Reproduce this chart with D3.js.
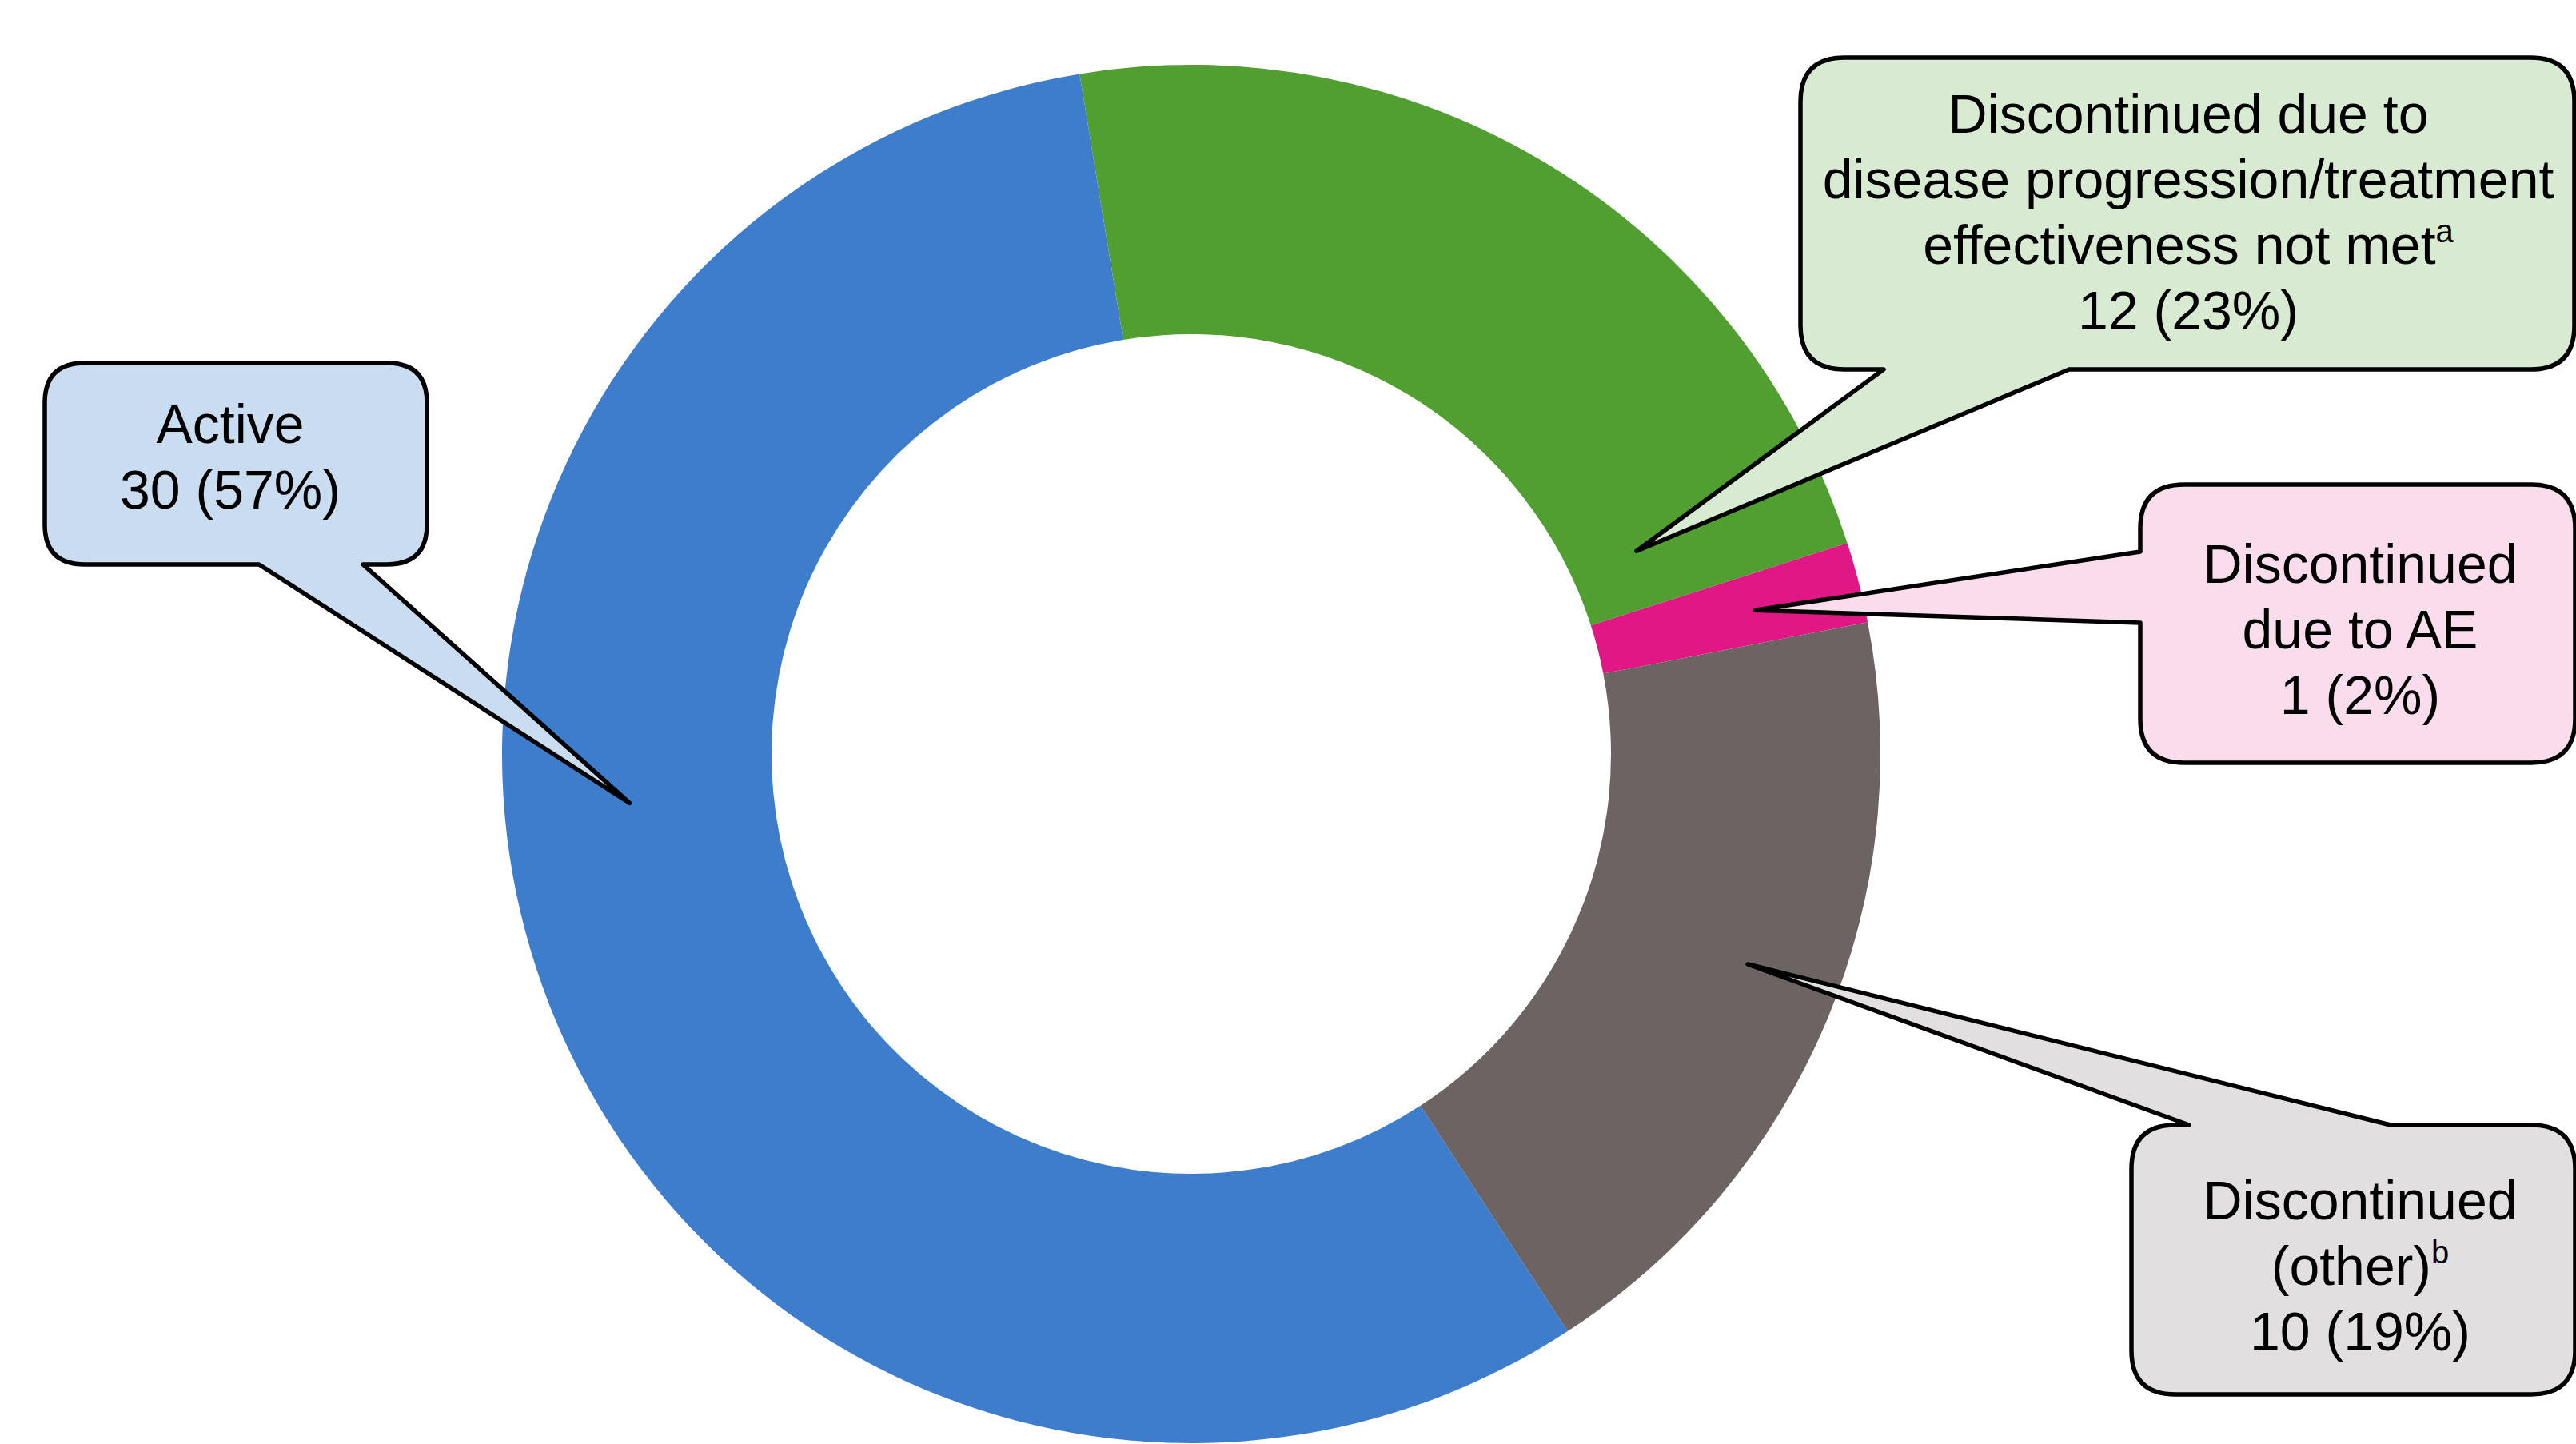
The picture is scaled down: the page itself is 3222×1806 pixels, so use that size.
<!DOCTYPE html>
<html><head><meta charset="utf-8">
<script src="https://cdn.jsdelivr.net/npm/d3@7"></script>
<style>html,body{margin:0;padding:0;background:#fff;overflow:hidden}</style>
</head><body><svg id="chart" width="3222" height="1806"></svg>
<script>
// ---- data ----
const categories = ["Active", "Discontinued due to disease progression/treatment effectiveness not met", "Discontinued due to AE", "Discontinued (other)"];
const counts = [30, 12, 1, 10];
const percentLabels = ["57%", "23%", "2%", "19%"];
const labelLines = [
  ["Active"],
  ["Discontinued due to", "disease progression/treatment", "effectiveness not met"],
  ["Discontinued", "due to AE"],
  ["Discontinued", "(other)"]
];
const footnoteMarks = ["", "a", "", "b"];

// ---- styles ----
const sliceColors = ["#3E7DCB", "#519E31", "#E01784", "#6B6462"];
const calloutFills = ["#CADCF0", "#D9EAD3", "#FADDEC", "#E1DFE0"];

// ---- layout ----
const W = 3222, H = 1806;
const cx = 1490, cy = 943, outerR = 862, innerR = 525;
const startDeg = 146.9;
const fontSize = 68, lineH = 82;

const calloutLayout = [
  {box: [56, 454, 534, 706], r: 50, side: "bottom", base: [324, 454], tip: {deg: 265, rad: 705}, textX: 288, baseline0: 554},
  {box: [2252, 72, 3220, 462], r: 55, side: "bottom", base: [2356, 2588], tip: {deg: 65.5, rad: 612}, textX: 2737, baseline0: 166},
  {box: [2677, 606, 3221, 954], r: 55, side: "left", base: [690, 779], tip: {deg: 75.7, rad: 728}, textX: 2952, baseline0: 729},
  {box: [2666, 1407, 3221, 1744], r: 55, side: "top", base: [2738, 2990], tip: {deg: 110.7, rad: 744}, textX: 2952, baseline0: 1525}
];

const data = categories.map((c, i) => ({category: c, count: counts[i], pct: percentLabels[i], lines: labelLines[i], mark: footnoteMarks[i]}));

const svg = d3.select("#chart");
svg.append("rect").attr("width", W).attr("height", H).attr("fill", "#fff");

const a0 = startDeg * Math.PI / 180;
const pie = d3.pie().sort(null).value(d => d.count).startAngle(a0).endAngle(a0 + 2 * Math.PI);
const arc = d3.arc().innerRadius(innerR).outerRadius(outerR);

const g = svg.append("g").attr("transform", `translate(${cx},${cy})`);
g.selectAll("path.slice").data(pie(data)).join("path")
  .attr("class", "slice")
  .attr("d", arc)
  .attr("fill", (d, i) => sliceColors[i]);

function polar(deg, rad) {
  const a = deg * Math.PI / 180;
  return [cx + rad * Math.sin(a), cy - rad * Math.cos(a)];
}

function calloutPath(L) {
  const [x0, y0, x1, y1] = L.box, r = L.r;
  const tip = polar(L.tip.deg, L.tip.rad);
  const p = d3.path();
  p.moveTo(x0 + r, y0);
  if (L.side === "top") {
    p.lineTo(L.base[0], y0); p.lineTo(tip[0], tip[1]); p.lineTo(L.base[1], y0);
  }
  p.lineTo(x1 - r, y0);
  p.quadraticCurveTo(x1, y0, x1, y0 + r);
  p.lineTo(x1, y1 - r);
  p.quadraticCurveTo(x1, y1, x1 - r, y1);
  if (L.side === "bottom") {
    p.lineTo(L.base[1], y1); p.lineTo(tip[0], tip[1]); p.lineTo(L.base[0], y1);
  }
  p.lineTo(x0 + r, y1);
  p.quadraticCurveTo(x0, y1, x0, y1 - r);
  if (L.side === "left") {
    p.lineTo(x0, L.base[1]); p.lineTo(tip[0], tip[1]); p.lineTo(x0, L.base[0]);
  }
  p.lineTo(x0, y0 + r);
  p.quadraticCurveTo(x0, y0, x0 + r, y0);
  p.closePath();
  return p.toString();
}

const callouts = svg.append("g").selectAll("g.callout").data(data).join("g").attr("class", "callout");
callouts.append("path")
  .attr("d", (d, i) => calloutPath(calloutLayout[i]))
  .attr("fill", (d, i) => calloutFills[i])
  .attr("stroke", "#000")
  .attr("stroke-width", 5.5)
  .attr("stroke-linejoin", "round");

callouts.each(function(d, i) {
  const L = calloutLayout[i];
  const t = d3.select(this).append("text")
    .attr("text-anchor", "middle")
    .attr("font-family", "'Liberation Sans', Arial, sans-serif")
    .attr("font-size", fontSize)
    .attr("fill", "#000");
  const all = d.lines.concat([`${d.count} (${d.pct})`]);
  all.forEach((line, k) => {
    t.append("tspan").attr("x", L.textX).attr("y", L.baseline0 + k * lineH).text(line);
    if (k === d.lines.length - 1 && d.mark) {
      t.append("tspan").attr("font-size", 40).attr("dy", -27).text(d.mark);
    }
  });
});
</script>
</body></html>
